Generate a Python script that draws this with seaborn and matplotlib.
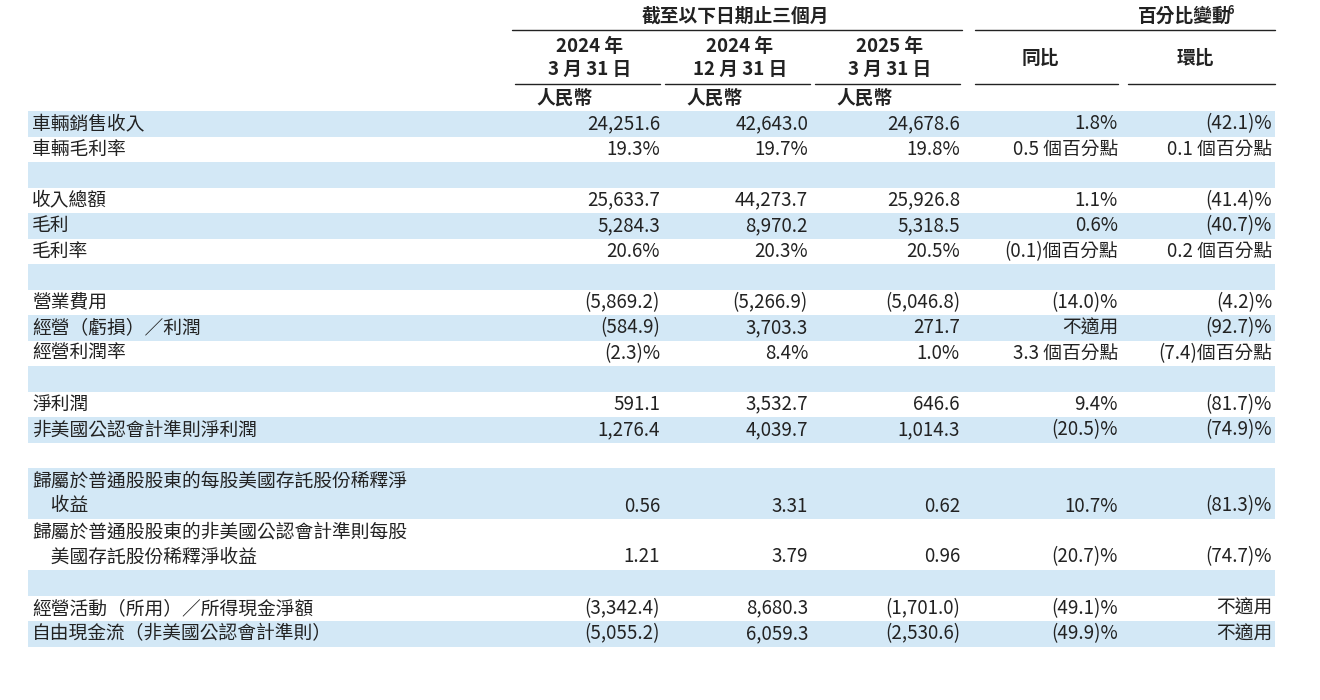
import matplotlib
matplotlib.use("Agg")
import matplotlib.pyplot as plt
import seaborn as sns

sns.set_theme(style="white", rc={"font.family": "Noto Sans CJK TC"})

row_labels = ["車輛銷售收入", "車輛毛利率", "", "收入總額", "毛利", "毛利率", "",
              "營業費用", "經營（虧損）／利潤", "經營利潤率", "", "淨利潤",
              "非美國公認會計準則淨利潤", "",
              "歸屬於普通股股東的每股美國存託股份稀釋淨\n　收益",
              "歸屬於普通股股東的非美國公認會計準則每股\n　美國存託股份稀釋淨收益", "",
              "經營活動（所用）／所得現金淨額", "自由現金流（非美國公認會計準則）"]
q1_2024 = ["24,251.6", "19.3%", "", "25,633.7", "5,284.3", "20.6%", "", "(5,869.2)", "(584.9)", "(2.3)%", "",
           "591.1", "1,276.4", "", "0.56", "1.21", "", "(3,342.4)", "(5,055.2)"]
q4_2024 = ["42,643.0", "19.7%", "", "44,273.7", "8,970.2", "20.3%", "", "(5,266.9)", "3,703.3", "8.4%", "",
           "3,532.7", "4,039.7", "", "3.31", "3.79", "", "8,680.3", "6,059.3"]
q1_2025 = ["24,678.6", "19.8%", "", "25,926.8", "5,318.5", "20.5%", "", "(5,046.8)", "271.7", "1.0%", "",
           "646.6", "1,014.3", "", "0.62", "0.96", "", "(1,701.0)", "(2,530.6)"]
yoy = ["1.8%", "0.5 個百分點", "", "1.1%", "0.6%", "(0.1)個百分點", "", "(14.0)%", "不適用", "3.3 個百分點", "",
       "9.4%", "(20.5)%", "", "10.7%", "(20.7)%", "", "(49.1)%", "(49.9)%"]
qoq = ["(42.1)%", "0.1 個百分點", "", "(41.4)%", "(40.7)%", "0.2 個百分點", "", "(4.2)%", "(92.7)%", "(7.4)個百分點", "",
       "(81.7)%", "(74.9)%", "", "(81.3)%", "(74.7)%", "", "不適用", "不適用"]
col_headers = [("2024 年\n3 月 31 日", "人民幣"), ("2024 年\n12 月 31 日", "人民幣"), ("2025 年\n3 月 31 日", "人民幣")]

fig = plt.figure(figsize=(13.2, 7), dpi=100)
ax = fig.add_axes([0, 0, 1, 1])
ax.set_xlim(0, 1320); ax.set_ylim(700, 0); ax.axis("off")

band = "#d3e8f6"
txt = "#222222"
fs = 13.5

heights = [25.5] * len(row_labels)
heights[14] = 51; heights[15] = 51
y = 111
col_right = [660, 808, 960, 1118, 1272]
for i, lab in enumerate(row_labels):
    h = heights[i]
    if i % 2 == 0:
        ax.axhspan(y, y + h, xmin=28/1320, xmax=1275/1320, color=band, lw=0)
    if h > 30:
        l1, l2 = lab.split("\n")
        ax.text(32, y + 13, l1, ha="left", va="center", fontsize=fs, color=txt)
        ax.text(32, y + 38, l2, ha="left", va="center", fontsize=fs, color=txt)
        yc = y + 38
    else:
        yc = y + h / 2
        ax.text(32, yc, lab, ha="left", va="center", fontsize=fs, color=txt)
    for xr, col in zip(col_right, [q1_2024, q4_2024, q1_2025, yoy, qoq]):
        ax.text(xr, yc, col[i], ha="right", va="center", fontsize=fs, color=txt)
    y += h

ax.text(735, 16, "截至以下日期止三個月", ha="center", va="center", fontsize=fs, fontweight="bold", color=txt)
ax.text(1185, 16, "百分比變動", ha="center", va="center", fontsize=fs, fontweight="bold", color=txt)
ax.text(1228, 10, "6", ha="left", va="center", fontsize=8, fontweight="bold", color=txt)
ax.plot([512, 962], [30, 30], color=txt, lw=1)
ax.plot([975, 1275], [30, 30], color=txt, lw=1)
centers = [590, 740, 890]
for (d, cur), cx in zip(col_headers, centers):
    ax.text(cx, 58, d, ha="center", va="center", fontsize=fs, fontweight="bold", color=txt, linespacing=1.3)
    ax.plot([cx - 75, cx + 70], [84, 84], color=txt, lw=1)
    ax.text(cx - 25, 98, cur, ha="center", va="center", fontsize=fs, fontweight="bold", color=txt)
ax.text(1040, 58, "同比", ha="center", va="center", fontsize=fs, fontweight="bold", color=txt)
ax.text(1195, 58, "環比", ha="center", va="center", fontsize=fs, fontweight="bold", color=txt)
ax.plot([975, 1118], [84, 84], color=txt, lw=1)
ax.plot([1128, 1275], [84, 84], color=txt, lw=1)

fig.savefig("out.png", dpi=100)
